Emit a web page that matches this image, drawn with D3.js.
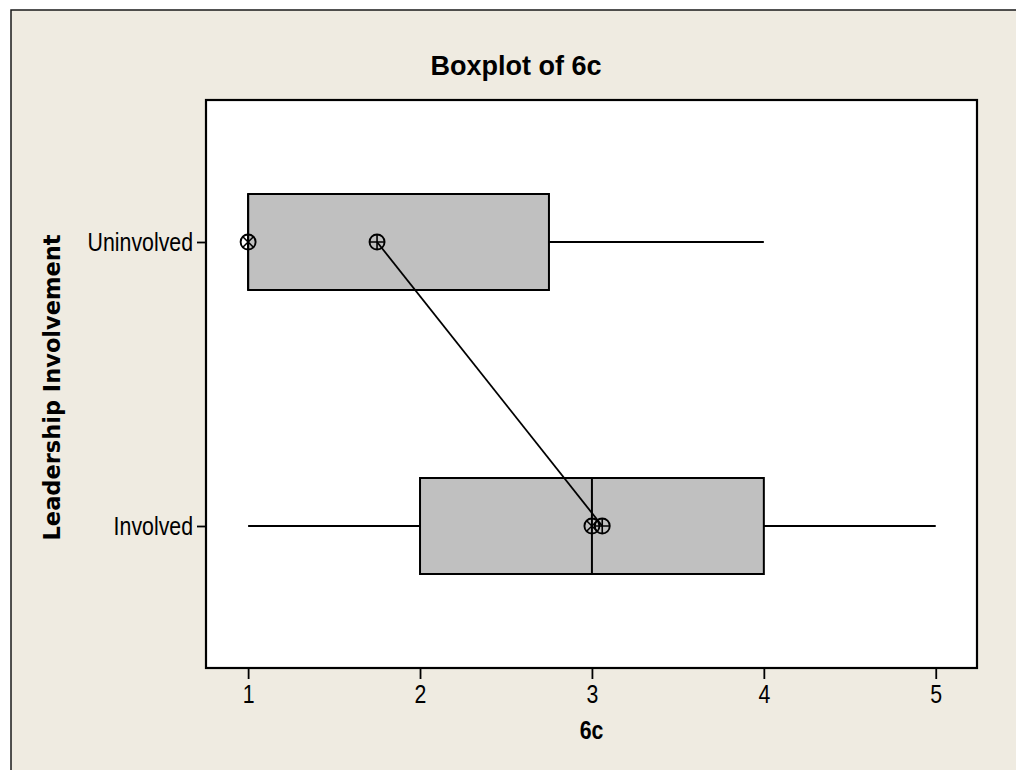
<!DOCTYPE html>
<html>
<head>
<meta charset="utf-8">
<script src="https://cdn.jsdelivr.net/npm/d3@7"></script>
<style>
  html, body { margin: 0; padding: 0; background: #ffffff; }
  svg { display: block; }
</style>
</head>
<body>
<svg id="chart" width="1016" height="770"></svg>
<script>
// Summary statistics of 6c for each leadership group
const categories = ["Uninvolved", "Involved"];
const whiskerLow = [1, 1];
const q1 = [1, 2];
const median = [1, 3];
const q3 = [2.75, 4];
const whiskerHigh = [4, 5];
const means = [1.75, 3.06];
const xTicks = [1, 2, 3, 4, 5];

const svg = d3.select("#chart");
const W = 1016, H = 770;
const plot = { left: 206, right: 977, top: 100, bottom: 668 };
const narrow = 0.82; // horizontal squeeze for the condensed axis lettering
const sans = "'Liberation Sans', Arial, sans-serif";

// Figure background with its frame
svg.append("rect")
  .attr("x", 11).attr("y", 10)
  .attr("width", W + 20).attr("height", H + 20)
  .attr("fill", "#efebe1")
  .attr("stroke", "#1a1a1a").attr("stroke-width", 1.5);

// Data region
svg.append("rect")
  .attr("x", plot.left).attr("y", plot.top)
  .attr("width", plot.right - plot.left).attr("height", plot.bottom - plot.top)
  .attr("fill", "#ffffff");

const x = d3.scaleLinear().domain([0.755, 5.24]).range([plot.left, plot.right]);
const y = d3.scalePoint().domain(categories).range([plot.top, plot.bottom]).padding(0.5);
const boxHalf = 48;
const lw = 2;

const rows = categories.map((c, i) => ({
  cat: c, lo: whiskerLow[i], q1: q1[i], med: median[i], q3: q3[i], hi: whiskerHigh[i], mean: means[i]
}));

const g = svg.append("g");

// Whiskers
rows.forEach(r => {
  const cy = y(r.cat);
  if (r.q1 > r.lo) {
    g.append("line").attr("x1", x(r.lo)).attr("x2", x(r.q1)).attr("y1", cy).attr("y2", cy)
      .attr("stroke", "#000").attr("stroke-width", lw);
  }
  if (r.hi > r.q3) {
    g.append("line").attr("x1", x(r.q3)).attr("x2", x(r.hi)).attr("y1", cy).attr("y2", cy)
      .attr("stroke", "#000").attr("stroke-width", lw);
  }
});

// Boxes
g.selectAll("rect.box").data(rows).enter().append("rect")
  .attr("class", "box")
  .attr("x", d => x(d.q1))
  .attr("y", d => y(d.cat) - boxHalf)
  .attr("width", d => x(d.q3) - x(d.q1))
  .attr("height", boxHalf * 2)
  .attr("fill", "#c0c0c0")
  .attr("stroke", "#000").attr("stroke-width", lw);

// Median lines
g.selectAll("line.med").data(rows).enter().append("line")
  .attr("class", "med")
  .attr("x1", d => x(d.med)).attr("x2", d => x(d.med))
  .attr("y1", d => y(d.cat) - boxHalf).attr("y2", d => y(d.cat) + boxHalf)
  .attr("stroke", "#000").attr("stroke-width", lw);

// Line connecting the means
g.append("path")
  .datum(rows)
  .attr("d", d3.line().x(d => x(d.mean)).y(d => y(d.cat)))
  .attr("fill", "none").attr("stroke", "#000").attr("stroke-width", 1.8);

const r0 = 7.5;
const k = r0 * Math.SQRT1_2;

// Median symbols: circle with an X
const medSym = g.selectAll("g.medsym").data(rows).enter().append("g")
  .attr("transform", d => `translate(${x(d.med)},${y(d.cat)})`);
medSym.append("circle").attr("r", r0).attr("fill", "none").attr("stroke", "#000").attr("stroke-width", 1.9);
medSym.append("path").attr("d", `M${-k},${-k}L${k},${k}M${-k},${k}L${k},${-k}`)
  .attr("stroke", "#000").attr("stroke-width", 1.6);

// Mean symbols: circle with a plus
const meanSym = g.selectAll("g.meansym").data(rows).enter().append("g")
  .attr("transform", d => `translate(${x(d.mean)},${y(d.cat)})`);
meanSym.append("circle").attr("r", r0).attr("fill", "none").attr("stroke", "#000").attr("stroke-width", 1.9);
meanSym.append("path").attr("d", `M${-r0},0L${r0},0M0,${-r0}L0,${r0}`)
  .attr("stroke", "#000").attr("stroke-width", 1.6);

// Frame of the data region
svg.append("rect")
  .attr("x", plot.left).attr("y", plot.top)
  .attr("width", plot.right - plot.left).attr("height", plot.bottom - plot.top)
  .attr("fill", "none").attr("stroke", "#000").attr("stroke-width", 2.2);

// X axis
const xAxis = svg.append("g")
  .attr("transform", `translate(0,${plot.bottom})`)
  .call(d3.axisBottom(x).tickValues(xTicks).tickFormat(d3.format("d")).tickSize(11).tickPadding(6));
xAxis.select(".domain").remove();
xAxis.selectAll(".tick line").attr("stroke", "#000").attr("stroke-width", 1.8);
xAxis.selectAll(".tick text")
  .attr("font-family", sans)
  .attr("font-size", 26).attr("fill", "#000")
  .attr("transform", `scale(${narrow},1)`);

// Y axis
const yAxis = svg.append("g")
  .attr("transform", `translate(${plot.left},0)`)
  .call(d3.axisLeft(y).tickSize(9).tickPadding(4));
yAxis.select(".domain").remove();
yAxis.selectAll(".tick line").attr("stroke", "#000").attr("stroke-width", 1.8);
yAxis.selectAll(".tick text")
  .attr("font-family", sans)
  .attr("font-size", 26).attr("fill", "#000").attr("dy", "0.34em")
  .attr("x", 0)
  .attr("transform", `translate(-13,0) scale(${narrow},1)`);

// Titles
svg.append("text")
  .attr("x", 516).attr("y", 75)
  .attr("text-anchor", "middle")
  .attr("font-family", sans)
  .attr("font-weight", "bold").attr("font-size", 27)
  .text("Boxplot of 6c");

svg.append("text")
  .attr("transform", `translate(${(plot.left + plot.right) / 2},739) scale(${narrow},1)`)
  .attr("text-anchor", "middle")
  .attr("font-family", sans)
  .attr("font-weight", "bold").attr("font-size", 26)
  .text("6c");

svg.append("text")
  .attr("transform", `translate(60,387.5) rotate(-90)`)
  .attr("text-anchor", "middle")
  .attr("font-family", "'DejaVu Sans', Verdana, sans-serif")
  .attr("font-weight", "bold").attr("font-size", 22.5)
  .text("Leadership Involvement");
</script>
</body>
</html>
